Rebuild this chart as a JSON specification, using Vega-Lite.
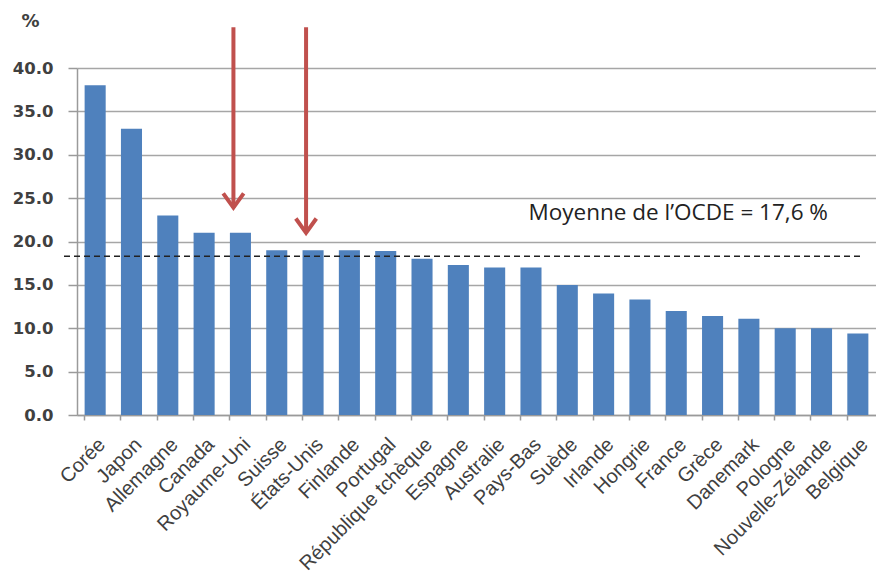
{
  "$schema": "https://vega.github.io/schema/vega-lite/v6.json",
  "width": 799,
  "height": 347,
  "autosize": {"type": "none"},
  "padding": {"left": 77, "top": 68, "right": 0, "bottom": 165},
  "background": "white",
  "config": {"view": {"stroke": null}},
  "datasets": {
    "pays": [
      {"pays": "Corée", "valeur": 38.0},
      {"pays": "Japon", "valeur": 33.0},
      {"pays": "Allemagne", "valeur": 23.0},
      {"pays": "Canada", "valeur": 21.0},
      {"pays": "Royaume-Uni", "valeur": 21.0},
      {"pays": "Suisse", "valeur": 19.0},
      {"pays": "États-Unis", "valeur": 19.0},
      {"pays": "Finlande", "valeur": 19.0},
      {"pays": "Portugal", "valeur": 18.9},
      {"pays": "République tchèque", "valeur": 18.0},
      {"pays": "Espagne", "valeur": 17.3},
      {"pays": "Australie", "valeur": 17.0},
      {"pays": "Pays-Bas", "valeur": 17.0},
      {"pays": "Suède", "valeur": 15.0},
      {"pays": "Irlande", "valeur": 14.0},
      {"pays": "Hongrie", "valeur": 13.3},
      {"pays": "France", "valeur": 12.0},
      {"pays": "Grèce", "valeur": 11.4},
      {"pays": "Danemark", "valeur": 11.1},
      {"pays": "Pologne", "valeur": 10.0},
      {"pays": "Nouvelle-Zélande", "valeur": 10.0},
      {"pays": "Belgique", "valeur": 9.4}
    ],
    "fleches": [
      {"pays": "Royaume-Uni", "haut": 44.7, "pointe": 23.9},
      {"pays": "États-Unis", "haut": 44.7, "pointe": 21.0}
    ],
    "moyenne": [
      {"pays": "France", "y": 18.3, "y_texte": 23.3, "texte": "Moyenne de l’OCDE = 17,6 %"}
    ]
  },
  "layer": [
    {
      "data": {"name": "pays"},
      "mark": {"type": "bar", "color": "#4F81BD"},
      "encoding": {
        "x": {
          "field": "pays", "type": "nominal", "sort": null,
          "scale": {"paddingInner": 0.42, "paddingOuter": 0.21},
          "axis": {
            "title": null, "labelAngle": -45, "labelFont": "Liberation Sans",
            "labelFontSize": 20, "labelColor": "#404040", "bandPosition": 0,
            "domainColor": "#9a9a9a", "domainWidth": 1.5, "tickColor": "#9a9a9a",
            "tickWidth": 1.5, "tickSize": 5, "labelPadding": 14
          }
        },
        "y": {
          "field": "valeur", "type": "quantitative",
          "scale": {"domain": [0, 40]},
          "axis": {
            "values": [0, 5, 10, 15, 20, 25, 30, 35, 40], "format": ".1f",
            "title": "%", "titleAngle": 0, "titleAlign": "left", "titleBaseline": "middle",
            "titleX": -56, "titleY": -47, "titleFont": "DejaVu Sans", "titleFontSize": 18,
            "titleFontWeight": "bold", "titleColor": "#404040",
            "labelFont": "DejaVu Sans", "labelFontSize": 16.5, "labelColor": "#404040",
            "labelFontWeight": "bold",
            "labelPadding": 15, "domainColor": "#9a9a9a", "domainWidth": 1.5,
            "tickColor": "#9a9a9a", "tickWidth": 1.5, "tickSize": 9,
            "grid": true, "gridColor": "#a6a6a6", "gridWidth": 1.5
          }
        }
      }
    },
    {
      "data": {"name": "moyenne"},
      "mark": {"type": "rule", "color": "#222222", "strokeDash": [6, 4], "strokeWidth": 1.5, "x": -13, "x2": 787},
      "encoding": {"y": {"field": "y", "type": "quantitative"}}
    },
    {
      "data": {"name": "moyenne"},
      "mark": {"type": "text", "font": "Open Sans", "fontSize": 22.5, "color": "#222222", "align": "center", "baseline": "middle", "dx": 2},
      "encoding": {
        "x": {"field": "pays", "type": "nominal", "sort": null},
        "y": {"field": "y_texte", "type": "quantitative"},
        "text": {"field": "texte"}
      }
    },
    {
      "data": {"name": "fleches"},
      "mark": {"type": "rule", "color": "#C0504D", "strokeWidth": 4, "xOffset": -7, "clip": false},
      "encoding": {
        "x": {"field": "pays", "type": "nominal", "sort": null},
        "y": {"field": "haut", "type": "quantitative"},
        "y2": {"field": "pointe"}
      }
    },
    {
      "data": {"name": "fleches"},
      "mark": {"type": "point", "shape": "M-1,-1.4L0,0L1,-1.4", "filled": false, "stroke": "#C0504D", "strokeWidth": 4, "size": 420, "opacity": 1, "xOffset": -7, "strokeJoin": "miter"},
      "encoding": {
        "x": {"field": "pays", "type": "nominal", "sort": null},
        "y": {"field": "pointe", "type": "quantitative"}
      }
    }
  ]
}
